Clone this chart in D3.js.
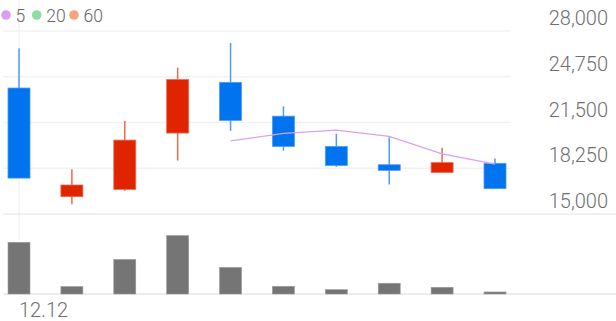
<!DOCTYPE html>
<html><head><meta charset="utf-8">
<script src="https://cdn.jsdelivr.net/npm/d3@7"></script>
<style>html,body{margin:0;padding:0;background:#fff;}svg{display:block;font-family:Roboto,"Noto Sans",sans-serif;}</style>
</head><body>
<svg id="c" width="616" height="321"></svg>
<script>
const dates = ["12.12","12.13","12.16","12.17","12.18","12.19","12.20","12.23","12.24","12.26"];
const open  = [23950,16230,16750,20750,24350,21950,19800,18500,17950,18600];
const high  = [26750,18180,21600,25400,27150,22650,20700,20450,19700,18950];
const low   = [17550,15690,16650,18800,20900,19500,18350,17100,17950,16800];
const close = [17550,17060,20250,24550,21650,19800,18450,18100,18650,16800];
const volume = [1780,255,1190,2010,915,265,150,370,230,70];
const ma5 = [null,null,null,null,20190,20730,20960,20520,19270,18550];
const priceTicks = [15000,18250,21500,24750,28000];
const xTickLabels = ["12.12"];
const legendItems = [{label:"5",color:"#d9a0ee"},{label:"20",color:"#8fdca2"},{label:"60",color:"#f7a37c"}];

const svg = d3.select("#c");
const idx = d3.range(dates.length);
const x = d3.scalePoint().domain(idx).range([19,495]);
const y = d3.scaleLinear().domain([15000,28000]).range([214,31]);
const yv = d3.scaleLinear().domain([0,d3.max(volume)*1.13]).range([294,228]);
const UP="#e02400", DOWN="#0073ef", UPS="#ea6a50", DOWNS="#4d9cf3";
const bw = 22;

// vertical grid at first tick
svg.append("line").attr("x1",x(0)).attr("x2",x(0)).attr("y1",0).attr("y2",240)
  .attr("stroke","#f1f1f1").attr("stroke-width",1.2);

// price grid
svg.selectAll(".g").data(priceTicks).join("line")
  .attr("x1",3).attr("x2",d=>d===15000?616:511)
  .attr("y1",d=>y(d)).attr("y2",d=>y(d))
  .attr("stroke",d=>d===15000?"#ebebeb":"#f2f2f2").attr("stroke-width",1.5);

// price labels
svg.selectAll(".pl").data(priceTicks).join("text")
  .attr("x",608).attr("y",d=>y(d)-6).attr("text-anchor","end")
  .attr("font-size",20).attr("font-weight",300).attr("fill","#6f6f6f")
  .text(d=>d3.format(",")(d));

// volume baseline
svg.append("line").attr("x1",3).attr("x2",616).attr("y1",yv(0)).attr("y2",yv(0))
  .attr("stroke","#e6e6e6").attr("stroke-width",1.5);

// volume bars
svg.selectAll(".v").data(idx).join("rect")
  .attr("x",i=>x(i)-bw/2).attr("width",bw)
  .attr("y",i=>yv(volume[i])).attr("height",i=>yv(0)-yv(volume[i]))
  .attr("fill","#757575").attr("stroke","#9a9a9a").attr("stroke-width",0.6);

// wicks
svg.selectAll(".w").data(idx).join("line")
  .attr("x1",i=>x(i)).attr("x2",i=>x(i))
  .attr("y1",i=>y(high[i])).attr("y2",i=>y(low[i]))
  .attr("stroke",i=>close[i]>=open[i]?UPS:DOWNS).attr("stroke-width",1.5);

// bodies
svg.selectAll(".b").data(idx).join("rect")
  .attr("x",i=>x(i)-bw/2).attr("width",bw)
  .attr("y",i=>y(Math.max(open[i],close[i])))
  .attr("height",i=>Math.max(1,Math.abs(y(open[i])-y(close[i]))))
  .attr("fill",i=>close[i]>=open[i]?UP:DOWN)
  .attr("stroke",i=>close[i]>=open[i]?UPS:DOWNS).attr("stroke-width",0.8);

// MA5
const line = d3.line().defined(d=>d.v!=null).x(d=>x(d.i)).y(d=>y(d.v));
svg.append("path").datum(idx.map(i=>({i,v:ma5[i]})))
  .attr("d",line).attr("fill","none").attr("stroke","#d9a0ee").attr("stroke-width",1.3);

// x labels
svg.selectAll(".xl").data(xTickLabels).join("text")
  .attr("x",d=>x(dates.indexOf(d))).attr("y",317).attr("text-anchor","start")
  .attr("font-size",20).attr("font-weight",300).attr("fill","#6f6f6f").text(d=>d);

// legend
const lg = svg.append("g");
let lx = 6;
const lgPos = [6,36.7,74];
legendItems.forEach((d,k)=>{
  lg.append("circle").attr("cx",lgPos[k]).attr("cy",15).attr("r",4.8).attr("fill",d.color);
  lg.append("text").attr("x",lgPos[k]+9.5).attr("y",21.5).attr("font-size",17.5)
    .attr("font-weight",300).attr("fill","#666").text(d.label);
});
</script>
</body></html>
